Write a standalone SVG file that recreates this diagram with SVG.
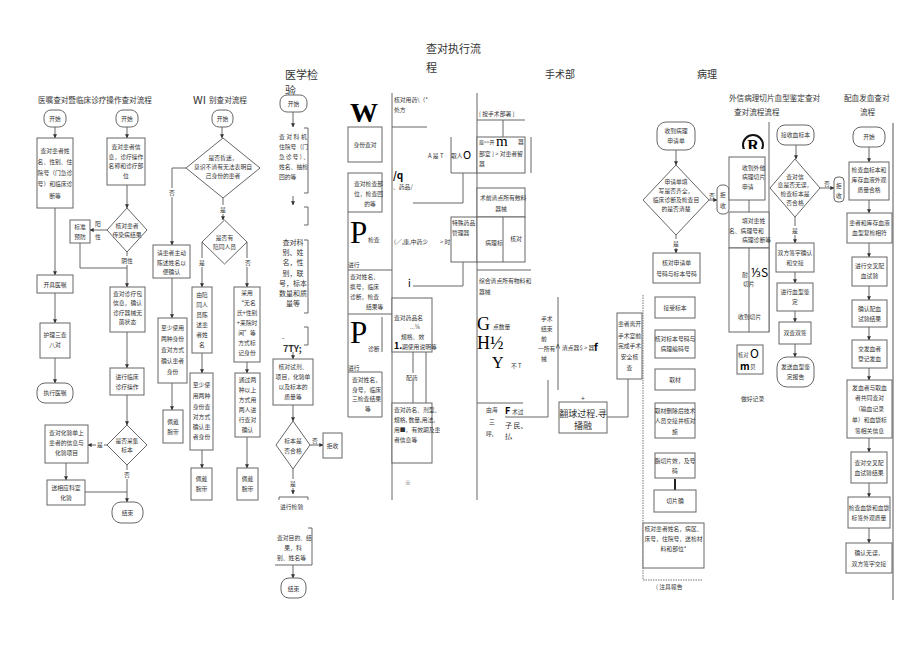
<svg xmlns="http://www.w3.org/2000/svg" width="920" height="651" viewBox="0 0 920 651">
<defs>
<marker id="ah" viewBox="0 0 6 6" refX="5.5" refY="3" markerWidth="4" markerHeight="4" orient="auto"><path d="M0,0 L6,3 L0,6 z" fill="#333"/></marker>
<style>
.b{fill:#fff;stroke:#666;stroke-width:1}
.l{fill:none;stroke:#666;stroke-width:1}
.d{fill:none;stroke:#777;stroke-width:1;stroke-dasharray:1.5 1}
.a{fill:none;stroke:#666;stroke-width:1;marker-end:url(#ah)}
text{font-family:"Noto Sans CJK SC","Noto Sans",sans-serif;fill:#333}
.s{font-size:5.8px;text-anchor:middle}
.sl{font-size:5.8px}
.h{font-size:7.6px}
.t{font-size:11px}
.bg{font-family:"Liberation Serif",serif;fill:#000}
.w{fill:#fff;stroke:none}
</style>
</defs>
<rect width="920" height="651" fill="#fff"/>

<g id="titles">
<text class="t" x="426" y="53">查对执行流</text>
<text class="t" x="426" y="72">程</text>
<text class="t" x="285" y="79">医学检</text>
<text class="t" x="285" y="95">验</text>
<text class="t" x="545" y="78" style="font-size:10px">手术部</text>
<text class="t" x="697" y="78" style="font-size:10px">病理</text>
<text class="h" x="38" y="103">医嘱查对暨临床诊疗操作查对流程</text>
<text x="193" y="104" style="font-size:11px">WI</text>
<text class="h" x="209" y="103">别查对流程</text>
<text class="h" x="729" y="101">外信病理切片血型鉴定查对</text>
<text class="h" x="734" y="115">查对流程流程</text>
<text class="h" x="844" y="101">配血发血查对</text>
<text class="h" x="860" y="115">流程</text>
</g>

<g id="connectors">
<!-- flow 1 -->
<line class="a" x1="55" y1="127" x2="55" y2="138"/>
<line class="a" x1="55" y1="208" x2="55" y2="275"/>
<line class="a" x1="55" y1="293" x2="55" y2="323"/>
<line class="a" x1="55" y1="358" x2="55" y2="383"/>
<!-- flow 2 -->
<line class="a" x1="127" y1="127" x2="127" y2="138"/>
<line class="a" x1="127" y1="185" x2="127" y2="208"/>
<line class="a" x1="107" y1="230" x2="90" y2="230"/>
<line class="a" x1="127" y1="252" x2="127" y2="287"/>
<polyline class="l" points="80,243 80,268 127,268"/>
<line class="a" x1="127" y1="332" x2="127" y2="368"/>
<line class="a" x1="127" y1="395" x2="127" y2="425"/>
<line class="a" x1="107" y1="445" x2="88" y2="445"/>
<line class="a" x1="127" y1="465" x2="127" y2="502"/>
<line class="a" x1="66" y1="463" x2="66" y2="480"/>
<line class="l" x1="85" y1="492" x2="127" y2="492"/>
<!-- flow 3 -->
<line class="a" x1="222" y1="127" x2="222" y2="138"/>
<polyline class="a" points="186,168 172,168 172,245"/>
<line class="a" x1="223" y1="198" x2="223" y2="220"/>
<line class="a" x1="202" y1="242" x2="202" y2="287"/>
<line class="a" x1="247" y1="242" x2="247" y2="287"/>
<line class="a" x1="172" y1="278" x2="172" y2="318"/>
<line class="a" x1="172" y1="383" x2="172" y2="410"/>
<line class="a" x1="202" y1="353" x2="202" y2="373"/>
<line class="a" x1="202" y1="450" x2="202" y2="468"/>
<line class="a" x1="247" y1="362" x2="247" y2="373"/>
<line class="a" x1="247" y1="437" x2="247" y2="468"/>
<!-- flow 4 -->
<line class="a" x1="293" y1="112" x2="293" y2="127"/>
<line class="a" x1="293" y1="196" x2="293" y2="205"/>
<line class="a" x1="293" y1="352" x2="293" y2="359"/>
<line class="a" x1="293" y1="405" x2="293" y2="421"/>
<line class="a" x1="310" y1="445" x2="323" y2="445"/>
<line class="a" x1="293" y1="469" x2="293" y2="494"/>
<line class="a" x1="293" y1="565" x2="293" y2="578"/>
<!-- pathology -->
<line class="a" x1="676" y1="150" x2="676" y2="165"/>
<line class="a" x1="709" y1="200" x2="717" y2="200"/>
<line class="a" x1="676" y1="235" x2="676" y2="253"/>
<line class="l" x1="749" y1="200" x2="749" y2="212"/>
<line class="l" x1="769" y1="122" x2="769" y2="332"/>
<line class="l" x1="675" y1="479" x2="675" y2="490" style="stroke:#222;stroke-width:2"/>
<!-- blood type -->
<line class="a" x1="796" y1="145" x2="796" y2="159"/>
<line class="a" x1="820" y1="188" x2="834" y2="188"/>
<line class="a" x1="795" y1="217" x2="795" y2="243"/>
<line class="a" x1="795" y1="272" x2="795" y2="283"/>
<line class="a" x1="795" y1="311" x2="795" y2="322"/>
<line class="a" x1="795" y1="344" x2="795" y2="357"/>
<line class="l" x1="893" y1="123" x2="893" y2="600" style="stroke:#555"/>
<!-- transfusion -->
<line class="a" x1="869" y1="147" x2="869" y2="162"/>
<line class="a" x1="869" y1="200" x2="869" y2="213"/>
<line class="a" x1="869" y1="243" x2="869" y2="257"/>
<line class="a" x1="869" y1="286" x2="869" y2="300"/>
<line class="a" x1="869" y1="327" x2="869" y2="340"/>
<line class="a" x1="869" y1="368" x2="869" y2="380"/>
<line class="a" x1="869" y1="438" x2="869" y2="452"/>
<line class="a" x1="869" y1="483" x2="869" y2="497"/>
<line class="a" x1="869" y1="528" x2="869" y2="543"/>
<!-- execution column frame lines -->
<line class="l" x1="392" y1="93" x2="392" y2="500"/>
<line class="l" x1="477" y1="93" x2="477" y2="500"/>
<line class="l" x1="392" y1="127" x2="427" y2="127"/>
<line class="l" x1="451" y1="137" x2="451" y2="173"/>
<line class="l" x1="451" y1="173" x2="477" y2="173"/>
<line class="l" x1="463" y1="173" x2="463" y2="203"/>
<line class="l" x1="413" y1="203" x2="463" y2="203"/>
<polyline class="l" points="348,212 348,270 392,270"/>
<line class="l" x1="348" y1="270" x2="348" y2="417"/>
<line class="l" x1="348" y1="314" x2="392" y2="314"/>
<line class="l" x1="382" y1="317" x2="382" y2="352"/>
<line class="l" x1="413" y1="286" x2="463" y2="286"/>
<line class="l" x1="463" y1="262" x2="463" y2="286"/>
<line class="l" x1="413" y1="352" x2="413" y2="403"/>
<line class="l" x1="426" y1="352" x2="426" y2="403"/>
<line class="l" x1="477" y1="120" x2="525" y2="120"/>
<line class="l" x1="503" y1="120" x2="503" y2="137"/>
<line class="l" x1="531" y1="137" x2="531" y2="173"/>
<line class="l" x1="477" y1="270" x2="531" y2="270"/>
<line class="l" x1="477" y1="403" x2="523" y2="403"/>
<polyline class="l" points="505,417 548,417 548,380"/>
<line class="l" x1="558" y1="297" x2="558" y2="390"/>
<polyline class="l" points="607,417 628,417 628,379"/>
<line class="d" x1="643" y1="295" x2="643" y2="580"/>
<line class="d" x1="643" y1="580" x2="703" y2="580"/>
</g>

<g id="labels">
<rect class="w" x="93" y="220" width="9" height="8"/>
<text class="s" x="98" y="226">阳</text>
<text class="s" x="98" y="239">性</text>
<rect class="w" x="120" y="256" width="14" height="9"/>
<text class="s" x="127" y="263">阴性</text>
<rect class="w" x="96" y="441" width="8" height="8"/>
<text class="s" x="100" y="447">是</text>
<rect class="w" x="123" y="470" width="8" height="9"/>
<text class="s" x="127" y="477">否</text>
<rect class="w" x="168" y="188" width="8" height="9"/>
<text class="s" x="172" y="195">否</text>
<rect class="w" x="219" y="205" width="8" height="9"/>
<text class="s" x="223" y="212">是</text>
<rect class="w" x="198" y="258" width="8" height="9"/>
<text class="s" x="202" y="265">是</text>
<rect class="w" x="243" y="258" width="8" height="9"/>
<text class="s" x="248" y="265">否</text>
<text class="s" x="315" y="443">否</text>
<rect class="w" x="289" y="479" width="8" height="9"/>
<text class="s" x="293" y="486">是</text>
<text class="s" x="712" y="198">否</text>
<rect class="w" x="672" y="239" width="8" height="9"/>
<text class="s" x="676" y="246">是</text>
<text class="s" x="827" y="186">否</text>
<rect class="w" x="791" y="226" width="8" height="9"/>
<text class="s" x="795" y="233">是</text>
</g>

<!-- Flow 1 -->
<g id="f1-start"><rect class="b" x="44" y="110" width="22" height="17" rx="7"/><text class="s" x="55" y="121">开始</text></g>
<g id="f1-check"><rect class="b" x="37" y="138" width="36" height="70"/>
<text class="s" x="55" y="153">查对患者姓</text><text class="s" x="55" y="164">名、性别、住</text><text class="s" x="55" y="175">院号（门急诊</text><text class="s" x="55" y="186">号）和临床诊</text><text class="s" x="55" y="198">断等</text></g>
<g id="f1-order"><rect class="b" x="37" y="275" width="36" height="18"/><text class="s" x="55" y="287">开具医嘱</text></g>
<g id="f1-nurse"><rect class="b" x="40" y="323" width="30" height="35"/><text class="s" x="55" y="337">护理三查</text><text class="s" x="55" y="347">八对</text></g>
<g id="f1-exec"><rect class="b" x="37" y="383" width="36" height="20" rx="8"/><text class="s" x="55" y="395">执行医嘱</text></g>

<!-- Flow 2 -->
<g id="f2-start"><rect class="b" x="116" y="110" width="22" height="17" rx="7"/><text class="s" x="127" y="121">开始</text></g>
<g id="f2-info"><rect class="b" x="107" y="138" width="38" height="47"/>
<text class="s" x="126" y="149">查对患者信</text><text class="s" x="126" y="159">息，诊疗操作</text><text class="s" x="126" y="168">名称和诊疗部</text><text class="s" x="126" y="178">位</text></g>
<g id="f2-inf"><polygon class="b" points="127,208 147,230 127,252 107,230"/><text class="s" x="127" y="228">核对患者</text><text class="s" x="127" y="237">传染病结果</text></g>
<g id="f2-std"><rect class="b" x="70" y="220" width="20" height="23"/><text class="s" x="80" y="229">标准</text><text class="s" x="80" y="239">预防</text></g>
<g id="f2-pack"><rect class="b" x="110" y="287" width="35" height="45"/>
<text class="s" x="127.5" y="296">查对诊疗包</text><text class="s" x="127.5" y="305">信息，确认</text><text class="s" x="127.5" y="315">诊疗器械无</text><text class="s" x="127.5" y="324">菌状态</text></g>
<g id="f2-op"><rect class="b" x="110" y="368" width="34" height="27"/><text class="s" x="127" y="379">进行临床</text><text class="s" x="127" y="389">诊疗操作</text></g>
<g id="f2-spec"><polygon class="b" points="127,425 147,445 127,465 107,445"/><text class="s" x="127" y="443">是否采集</text><text class="s" x="127" y="452">标本</text></g>
<g id="f2-lab"><rect class="b" x="45" y="425" width="43" height="38"/><text class="s" x="66.5" y="435">查对化验单上</text><text class="s" x="66.5" y="445">患者的信息与</text><text class="s" x="66.5" y="455">化验项目</text></g>
<g id="f2-send"><rect class="b" x="47" y="480" width="38" height="25"/><text class="s" x="66" y="490">送相应科室</text><text class="s" x="66" y="500">化验</text></g>
<g id="f2-end"><rect class="b" x="112" y="502" width="31" height="21" rx="9"/><text class="s" x="127.5" y="515">结束</text></g>

<!-- Flow 3 -->
<g id="f3-start"><rect class="b" x="212" y="110" width="21" height="17" rx="7"/><text class="s" x="222.5" y="121">开始</text></g>
<g id="f3-coma"><polygon class="b" points="223,138 260,168 223,198 186,168"/><text class="s" x="223" y="160">是否昏迷，</text><text class="s" x="223" y="169">意识不清有无法表明自</text><text class="s" x="223" y="178">己身份的患者</text></g>
<g id="f3-comp"><polygon class="b" points="224.5,220 247,242 224.5,264 202,242"/><text class="s" x="224.5" y="240">是否有</text><text class="s" x="224.5" y="249">陪同人员</text></g>
<g id="f3-ask"><rect class="b" x="153" y="245" width="37" height="33"/><text class="s" x="171.5" y="255">请患者主动</text><text class="s" x="171.5" y="265">陈述姓名以</text><text class="s" x="171.5" y="274">便确认</text></g>
<g id="f3-two1"><rect class="b" x="158" y="318" width="29" height="65"/><text class="s" x="172.5" y="330">至少使用</text><text class="s" x="172.5" y="341">两种身份</text><text class="s" x="172.5" y="352">查对方式</text><text class="s" x="172.5" y="363">确认患者</text><text class="s" x="172.5" y="374">身份</text></g>
<g id="f3-band1"><rect class="b" x="163" y="410" width="20" height="33"/><text class="s" x="173" y="424">佩戴</text><text class="s" x="173" y="434">腕带</text></g>
<g id="f3-comp2"><rect class="b" x="192" y="287" width="20" height="66"/><text class="s" x="202" y="297">由陪</text><text class="s" x="202" y="307">同人</text><text class="s" x="202" y="317">员陈</text><text class="s" x="202" y="327">述患</text><text class="s" x="202" y="337">者姓</text><text class="s" x="202" y="347">名</text></g>
<g id="f3-two2"><rect class="b" x="190" y="373" width="23" height="77"/><text class="s" x="201.5" y="387">至少使</text><text class="s" x="201.5" y="398">用两种</text><text class="s" x="201.5" y="409">身份查</text><text class="s" x="201.5" y="419">对方式</text><text class="s" x="201.5" y="429">确认患</text><text class="s" x="201.5" y="439">者身份</text></g>
<g id="f3-band2"><rect class="b" x="191" y="468" width="21" height="32"/><text class="s" x="201.5" y="481">佩戴</text><text class="s" x="201.5" y="491">腕带</text></g>
<g id="f3-anon"><rect class="b" x="234" y="287" width="26" height="75"/><text class="s" x="247" y="295">采用</text><text class="s" x="247" y="305">“无名</text><text class="s" x="247" y="315">氏+性别</text><text class="s" x="247" y="325">+来院时</text><text class="s" x="247" y="335">间”等</text><text class="s" x="247" y="345">方式标</text><text class="s" x="247" y="355">记身份</text></g>
<g id="f3-two3"><rect class="b" x="235" y="373" width="25" height="64"/><text class="s" x="247.5" y="382">通过两</text><text class="s" x="247.5" y="392">种以上</text><text class="s" x="247.5" y="402">方式用</text><text class="s" x="247.5" y="412">两人进</text><text class="s" x="247.5" y="422">行查对</text><text class="s" x="247.5" y="432">确认</text></g>
<g id="f3-band3"><rect class="b" x="237" y="468" width="21" height="32"/><text class="s" x="247.5" y="481">佩戴</text><text class="s" x="247.5" y="491">腕带</text></g>

<!-- Flow 4 lab -->
<g id="f4-start"><rect class="b" x="280" y="95" width="27" height="17" rx="7"/><text class="s" x="293.5" y="106">开始</text></g>
<g id="f4-b1"><polyline class="l" points="304,128 308,128 308,193 304,193"/>
<text class="sl" x="279" y="139" style="letter-spacing:1.5px">查对科机</text><text class="sl" x="279" y="149">住院号（门</text><text class="sl" x="279" y="159" style="letter-spacing:1px">急诊号）、</text><text class="sl" x="279" y="169">姓名、抽检</text><text class="sl" x="279" y="179">回的等</text></g>
<g id="f4-b2"><polyline class="l" points="304,207 308,207 308,225 304,225"/></g>
<g id="f4-b3"><polyline class="l" points="304,240 308,240 308,313 304,313"/>
<text class="s" x="293" y="245" style="font-size:7px">查对科</text><text class="s" x="293" y="255" style="font-size:7px">别、姓</text><text class="s" x="293" y="265" style="font-size:7px">名，性</text><text class="s" x="293" y="276" style="font-size:7px">别，联</text><text class="s" x="293" y="286" style="font-size:7px">号，标本</text><text class="s" x="293" y="296" style="font-size:7px">数量和质</text><text class="s" x="293" y="306" style="font-size:7px">量等</text></g>
<g id="f4-b4"><polyline class="l" points="304,327 308,327 308,345 304,345"/><text x="282" y="340" style="font-size:7px">-</text><text x="283" y="352" style="font-size:9px;font-weight:bold">7TY;</text></g>
<g id="f4-reagent"><rect class="b" x="273" y="359" width="40" height="46"/><text class="s" x="293" y="369">核对试剂、</text><text class="s" x="293" y="379">项目，化验单</text><text class="s" x="293" y="389">以及标本的</text><text class="s" x="293" y="399">质量等</text></g>
<g id="f4-qual"><polygon class="b" points="293,421 310,445 293,469 276,445"/><text class="s" x="293" y="443">标本是</text><text class="s" x="293" y="453">否合格</text></g>
<g id="f4-reject"><rect class="b" x="323" y="433" width="19" height="25"/><text class="s" x="332.5" y="448">拒收</text></g>
<g id="f4-test"><polyline class="l" points="279,500 279,497 308,497 308,500"/><text class="sl" x="280" y="509">进行检验</text></g>
<g id="f4-result"><polyline class="l" points="308,528 312,528 312,565 275,565"/><text class="sl" x="277" y="540">查对目的、结</text><text class="s" x="293" y="550">果，科</text><text class="sl" x="277" y="560">别、姓名等</text></g>
<g id="f4-end"><rect class="b" x="281" y="578" width="25" height="20" rx="8"/><text class="s" x="293.5" y="591">结束</text></g>

<!-- Execution column -->
<g id="c5-w"><text class="bg" x="350" y="122" style="font-size:28px;font-weight:bold">W</text>
<text class="sl" x="394" y="102">核对用药\（*</text><text class="sl" x="394" y="112">处方</text></g>
<g id="c5-id"><rect class="b" x="348" y="127" width="34" height="35"/><text class="s" x="365" y="147">身份查对</text></g>
<g id="c5-q"><text x="393" y="179" style="font-size:10px;font-weight:bold;fill:#000">/q</text><text class="sl" x="393" y="189">、药品/</text>
<text class="sl" x="428" y="158">A 是 T</text><text class="sl" x="451" y="158">取人</text><text x="463" y="159" style="font-size:11px;fill:#000">O</text></g>
<g id="c5-site"><rect class="b" x="348" y="173" width="34" height="39"/><text class="sl" x="354" y="186">查对检查部</text><text class="sl" x="354" y="196">位，检查回</text><text class="s" x="370" y="206">的等</text></g>
<g id="c5-p1"><text class="bg" x="350" y="243" style="font-size:31px">P</text><text class="sl" x="368" y="242">检查</text>
<text class="sl" x="394" y="244">(／,康,中药少</text><text class="sl" x="440" y="244">&gt; 时</text><text class="sl" x="348" y="267">进行</text></g>
<g id="c5-n1"><text class="sl" x="350" y="279">查对姓名、</text><text class="sl" x="350" y="289">携号，临床</text><text class="sl" x="350" y="299">诊断，检查</text><text class="sl" x="366" y="309">结果等</text></g>
<g id="c5-p2"><text class="bg" x="350" y="343" style="font-size:31px">P</text><text class="sl" x="368" y="351">诊断</text><text class="sl" x="348" y="370">进行</text></g>
<g id="c5-n2"><polyline class="l" points="348,372 382,372 382,417 348,417"/><text class="sl" x="352" y="382">查对姓名，</text><text class="sl" x="352" y="392">身号，临床</text><text class="sl" x="352" y="401">三检查结果</text><text class="sl" x="365" y="411">等</text></g>
<g id="c5-i"><text x="408" y="287" style="font-size:10px;fill:#000">i</text></g>
<g id="c5-special"><rect class="b" x="451" y="217" width="26" height="45"/><text class="sl" x="452" y="225">特殊药品</text><text class="sl" x="452" y="235">管理器</text></g>
<g id="c5-drug"><rect class="b" x="392" y="298" width="40" height="54"/><text class="sl" x="394" y="320">查对药品名</text><text class="sl" x="410" y="329">...¼</text><text class="sl" x="401" y="339">规格、效</text><text x="394" y="349" style="font-size:9px;font-weight:bold;fill:#000">1.</text><text class="sl" x="402" y="349">期使用说明等</text></g>
<g id="c5-mix"><rect class="w" x="405" y="373" width="17" height="8"/><text class="sl" x="406" y="380">配药</text></g>
<g id="c5-disp"><rect class="b" x="392" y="403" width="40" height="60"/><text class="sl" x="394" y="412">查对药名、剂型、</text><text class="sl" x="394" y="422">规格, 数量,用法,</text><text class="sl" x="394" y="432">用■，有效期及患</text><text class="sl" x="394" y="442">者信息等</text><text class="sl" x="405" y="485">※</text></g>

<!-- Surgery column -->
<g id="s-top"><text class="sl" x="479" y="116">[ 按手术部署 ]</text></g>
<g id="s-b1"><rect class="b" x="477" y="137" width="48" height="36"/><text x="479" y="144" style="font-size:5px">旋&gt;&gt;开</text><text class="bg" x="496" y="146" style="font-size:15px">m</text><text class="sl" x="518" y="144">器</text><text class="sl" x="479" y="156">部室 ] &gt; 对患者留</text><text class="sl" x="479" y="166">器</text></g>
<g id="s-b2"><rect class="b" x="477" y="188" width="48" height="29"/><text class="sl" x="480" y="200">术前清点所有敷料</text><text class="s" x="501" y="211">器械</text></g>
<g id="s-b3"><rect class="b" x="477" y="217" width="48" height="45"/><line class="l" x1="503" y1="217" x2="503" y2="262"/><text class="s" x="494" y="245">病理标</text><text class="s" x="516" y="241">核对</text></g>
<g id="s-all"><text class="sl" x="479" y="283">综合清点所有物料和</text><text class="sl" x="479" y="294">器械</text>
<text class="bg" x="477" y="330" style="font-size:18px">G</text><text class="sl" x="493" y="329">点数量</text>
<text class="bg" x="477" y="349" style="font-size:18px">H½</text>
<text class="bg" x="492" y="368" style="font-size:16px">Y</text><text class="sl" x="511" y="368">不 T</text></g>
<g id="s-three"><text class="sl" x="486" y="412">由海</text><text class="sl" x="489" y="424">三</text><text class="sl" x="486" y="436">呼,</text>
<text x="505" y="414" style="font-size:9px;font-weight:bold;fill:#000">F</text><text class="sl" x="512" y="414">术过</text>
<text x="505" y="428" style="font-size:7px">子 民、</text><text class="bg" x="505" y="439" style="font-size:7px">払</text></g>
<g id="s-end"><text class="sl" x="541" y="321">手术</text><text class="sl" x="541" y="331">结束</text><text class="sl" x="541" y="341">前</text><text class="sl" x="538" y="351">一所有</text><text class="sl" x="541" y="361">械</text>
<text x="555" y="352" style="font-size:10px">^</text><text class="sl" x="562" y="350">清点器$ &gt; 器</text><text x="594" y="351" style="font-size:10px;font-weight:bold;fill:#000">f</text>
<text class="s" x="583" y="401" style="font-size:7px">+</text></g>
<g id="s-proc"><rect class="b" x="559" y="402" width="48" height="31"/><text class="s" x="583" y="417" style="font-size:9px">翻球过程.寻</text><text class="s" x="583" y="429" style="font-size:9px">播融</text></g>
<g id="s-safe"><rect class="b" x="617" y="313" width="25" height="66"/><text class="s" x="629.5" y="326">患者离开</text><text class="s" x="629.5" y="338">手术室前</text><text class="s" x="629.5" y="348">完成手术</text><text class="s" x="629.5" y="359">安全核</text><text class="s" x="629.5" y="370">查</text></g>

<!-- Pathology -->
<g id="p-start"><rect class="b" x="657" y="122" width="38" height="28" rx="9"/><text class="s" x="676" y="133">收到病理</text><text class="s" x="676" y="143">申请单</text></g>
<g id="p-check"><polygon class="b" points="676,165 709,200 676,235 643,200"/><text class="s" x="676" y="184">申请单填</text><text class="s" x="676" y="193">写是否齐全，</text><text class="s" x="676" y="202">临床诊断及检查目</text><text class="s" x="676" y="211">的是否清楚</text></g>
<g id="p-reject"><rect class="b" x="717" y="185" width="12" height="29" rx="5"/><text class="s" x="723" y="197">拒</text><text class="s" x="723" y="208">收</text></g>
<g id="p-num"><rect class="b" x="653" y="253" width="47" height="30"/><text class="s" x="676.5" y="265">核对申请单</text><text class="s" x="676.5" y="276">号码与标本号码</text></g>
<g id="p-recv"><rect class="b" x="655" y="297" width="40" height="21"/><text class="s" x="675" y="310">接受标本</text></g>
<g id="p-code"><rect class="b" x="655" y="330" width="40" height="28"/><text class="s" x="675" y="341">核对标本号码与</text><text class="s" x="675" y="351">病理编码号</text></g>
<g id="p-cut"><rect class="b" x="655" y="369" width="40" height="21"/><text class="s" x="675" y="382">取材</text></g>
<g id="p-hand"><rect class="b" x="655" y="403" width="40" height="35"/><text class="s" x="675" y="413">取材删除后技术</text><text class="s" x="675" y="423">人员交接并核对</text><text class="s" x="675" y="434">施</text></g>
<g id="p-slice"><rect class="b" x="655" y="453" width="40" height="25"/><text class="s" x="675" y="463">脂切片效，及号</text><text class="s" x="675" y="473">码</text></g>
<g id="p-conf"><rect class="b" x="654" y="490" width="42" height="22"/><text class="s" x="675" y="503">切片确</text></g>
<g id="p-final"><rect class="b" x="643" y="523" width="61" height="45"/><text class="s" x="673.5" y="531">核对患者姓名，病区、</text><text class="s" x="673.5" y="541">床号，住院号，送检材</text><text class="s" x="673.5" y="551">料和部位*</text></g>
<g id="p-report"><text class="sl" x="656" y="589">( 注具報告</text></g>

<!-- External slides -->
<g id="e-mark"><circle cx="753" cy="145" r="10" fill="none" stroke="#111" stroke-width="2"/><text class="bg" x="753" y="151" text-anchor="middle" style="font-size:16px;font-weight:bold">R</text><rect x="740" y="149" width="28" height="8" fill="#fff"/></g>
<g id="e-recv"><rect class="b" x="729" y="157" width="36" height="43"/><text class="sl" x="742" y="170">收到外他</text><text class="sl" x="742" y="179">病理切片</text><text class="sl" x="742" y="189">申请</text></g>
<g id="e-check"><rect class="b" x="729" y="212" width="40" height="36"/><text class="sl" x="742" y="223">填对患姓</text><text class="sl" x="729" y="233">名、病理号和</text><text class="sl" x="742" y="242">病理诊断等</text></g>
<g id="e-slice"><rect class="b" x="729" y="248" width="40" height="84"/><line class="l" x1="749" y1="248" x2="749" y2="332"/><text class="sl" x="742" y="277">耐</text><text x="751" y="277" style="font-size:12px;fill:#000">⅓S</text><text class="sl" x="743" y="286">切片</text><text class="sl" x="738" y="319">收到切片</text></g>
<g id="e-verify"><rect class="b" x="737" y="345" width="26" height="29"/><text x="738" y="357" style="font-size:5.2px">核对</text><text x="750" y="358" style="font-size:12px;fill:#000">O</text><text x="740" y="370" style="font-size:10px;font-weight:bold;fill:#000">m</text><text class="sl" x="750" y="369">贝</text></g>
<g id="e-rec"><text class="sl" x="741" y="401">做好记录</text></g>

<!-- Blood type -->
<g id="bt-start"><rect class="b" x="777" y="125" width="37" height="20" rx="8"/><text class="s" x="795.5" y="137">接收血标本</text></g>
<g id="bt-check"><polygon class="b" points="795,159 820,188 795,217 770,188"/><text class="s" x="795" y="179">查对信</text><text class="s" x="795" y="187">息是否无误，</text><text class="s" x="795" y="196">检查标本是</text><text class="s" x="795" y="205">否合格</text></g>
<g id="bt-reject"><rect class="b" x="834" y="177" width="10" height="25" rx="4"/><text class="s" x="839" y="188">拒</text><text class="s" x="839" y="198">收</text></g>
<g id="bt-sign"><rect class="b" x="776" y="243" width="38" height="29"/><text class="s" x="795" y="255">双方签字确认</text><text class="s" x="795" y="265">和交接</text></g>
<g id="bt-type"><rect class="b" x="777" y="283" width="36" height="28"/><text class="s" x="795" y="294">进行血型鉴</text><text class="s" x="795" y="304">定</text></g>
<g id="bt-double"><rect class="b" x="779" y="322" width="32" height="22"/><text class="s" x="795" y="335">双查双签</text></g>
<g id="bt-report"><rect class="b" x="777" y="357" width="37" height="30" rx="10"/><text class="s" x="795.5" y="369">发送血型鉴</text><text class="s" x="795.5" y="379">定报告</text></g>

<!-- Transfusion -->
<g id="tx-start"><rect class="b" x="853" y="127" width="32" height="20" rx="8"/><text class="s" x="869" y="139">开始</text></g>
<g id="tx-1"><rect class="b" x="849" y="162" width="40" height="38"/><text class="s" x="869" y="172">检查血标本和</text><text class="s" x="869" y="182">库存血液外观</text><text class="s" x="869" y="192">质量合格</text></g>
<g id="tx-2"><rect class="b" x="847" y="213" width="45" height="30"/><text class="s" x="869.5" y="225">患者和库存血液</text><text class="s" x="869.5" y="235">血型复检相符</text></g>
<g id="tx-3"><rect class="b" x="852" y="257" width="35" height="29"/><text class="s" x="869.5" y="268">进行交叉配</text><text class="s" x="869.5" y="278">血试验</text></g>
<g id="tx-4"><rect class="b" x="852" y="300" width="35" height="27"/><text class="s" x="869.5" y="311">确认配血</text><text class="s" x="869.5" y="321">试验结果</text></g>
<g id="tx-5"><rect class="b" x="852" y="340" width="35" height="28"/><text class="s" x="869.5" y="351">交发血者</text><text class="s" x="869.5" y="361">登记发血</text></g>
<g id="tx-6"><rect class="b" x="847" y="380" width="45" height="58"/><text class="s" x="869.5" y="390">发血者与取血</text><text class="s" x="869.5" y="400">者共同查对</text><text class="s" x="869.5" y="411">（输血记录</text><text class="s" x="869.5" y="422">单）和血袋标</text><text class="s" x="869.5" y="433">签相关信息</text></g>
<g id="tx-7"><rect class="b" x="851" y="452" width="36" height="31"/><text class="s" x="869" y="465">查对交叉配</text><text class="s" x="869" y="475">血试验结果</text></g>
<g id="tx-8"><rect class="b" x="848" y="497" width="42" height="31"/><text class="s" x="869" y="510">检查血袋和血袋</text><text class="s" x="869" y="520">标签外观质量</text></g>
<g id="tx-9"><rect class="b" x="846" y="543" width="46" height="30"/><text class="s" x="869" y="555">确认无误，</text><text class="s" x="869" y="566">双方签字交接</text></g>
</svg>
